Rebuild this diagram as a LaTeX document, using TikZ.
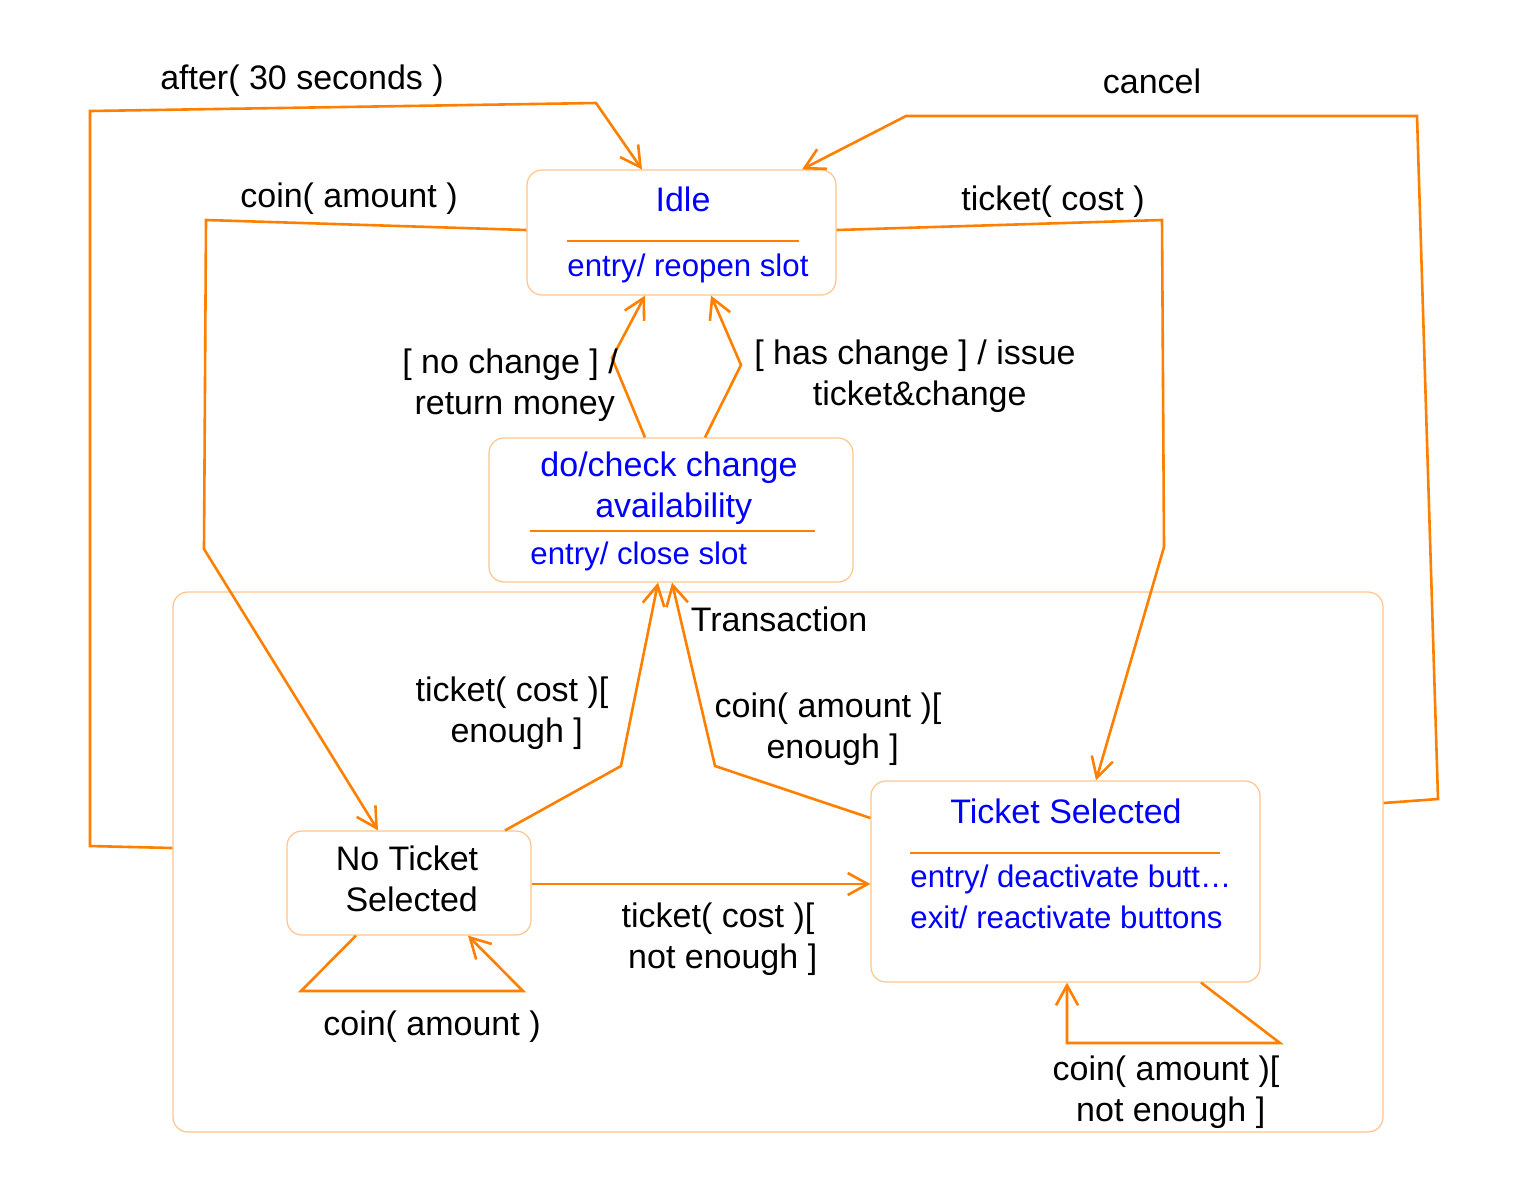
\documentclass[tikz,border=0pt]{standalone}
\usepackage{fontspec}
\setmainfont{Liberation Sans}
\usetikzlibrary{arrows.meta,calc}
\definecolor{ln}{RGB}{255,128,0}
\definecolor{bx}{RGB}{255,196,140}
\definecolor{tb}{RGB}{0,0,255}
\tikzset{
  statebox/.style={draw=bx,line width=0.6pt,rounded corners=7.5pt,inner sep=0pt,fill=none},
  conn/.style={draw=ln,line width=1.3pt,-{Straight Barb[length=10pt,width=11pt,line width=1.3pt]}},
  sep/.style={draw=ln,line width=1pt},
  lbl/.style={font=\fontsize{17}{20.5}\selectfont,align=center,inner sep=0pt,text=black,yshift=-1.5pt},
  ttl/.style={font=\fontsize{17}{20.5}\selectfont,align=center,inner sep=0pt,text=tb,yshift=-1.5pt},
  ent/.style={font=\fontsize{15.6}{19}\selectfont,inner sep=0pt,text=tb,anchor=west,yshift=-1.5pt}
}
\begin{document}
\begin{tikzpicture}[x=0.5pt,y=-0.5pt]
\useasboundingbox (0,0) rectangle (1525,1185);
% boxes
\node[statebox,minimum width=154.5pt,minimum height=62.5pt] (idle) at (681.5,232.5) {};
\node[statebox,minimum width=182pt,minimum height=72pt] (check) at (671,510) {};
\node[statebox,minimum width=605pt,minimum height=270pt] (trans) at (778,862) {};
\node[statebox,minimum width=122pt,minimum height=52pt] (notk) at (409,883) {};
\node[statebox,minimum width=194.5pt,minimum height=100.5pt] (tsel) at (1065.5,881.5) {};
% box contents
\node[ttl] (idlet) at (683,196) {Idle};
\draw[sep] (567,241) -- (799,241);
\node[ent] (idlee) at (567,265) {entry/ reopen slot};
\node[ttl] (checkt) at (669,485) {do/check change\\ \ availability};
\draw[sep] (530,531) -- (815,531);
\node[ent] (checke) at (530,553) {entry/ close slot};
\node[lbl] (transt) at (779,616) {Transaction};
\node[lbl] (notkt) at (407,876) {No Ticket\\ \ Selected};
\node[ttl] (tselt) at (1066,808) {Ticket Selected};
\draw[sep] (910,853) -- (1220,853);
\node[ent] (tsele1) at (910,876) {entry/ deactivate butt…};
\node[ent] (tsele2) at (910,914) {exit/ reactivate buttons};
% connectors
\draw[conn] (trans.west |- 0,848) -- (90,846) -- (90,111) -- (596,103) -- (idle.north -| 642,0);
\node[lbl] (l1) at (302,78) {after( 30 seconds )};
\draw[conn] (trans.east |- 0,803) -- (1438,799) -- (1417,116) -- (906,116) -- (idle.north -| 802,0);
\node[lbl] (l2) at (1152,78) {cancel};
\draw[conn] (idle.west |- 0,230) -- (206,220) -- (204,549) -- (notk.north -| 378,0);
\node[lbl] (l3) at (349,196) {coin( amount )};
\draw[conn] (idle.east |- 0,230) -- (1162,220) -- (1164,547) -- (tsel.north -| 1096,0);
\node[lbl] (l4) at (1053,199) {ticket( cost )};
\draw[conn] (check.north -| 645,0) -- (612,358) -- (idle.south -| 645,0);
\node[lbl] (l5) at (510,382) {[ no change ] /\\ \ return money};
\draw[conn] (check.north -| 705,0) -- (741,365) -- (idle.south -| 711,0);
\node[lbl] (l6) at (915,373) {[ has change ] / issue\\ \ ticket\&change};
\draw[conn] (notk.north -| 505,0) -- (621,766) -- (check.south -| 658,0);
\node[lbl] (l7) at (512,710) {ticket( cost )[\\ \ enough ]};
\draw[conn] (tsel.west |- 0,818) -- (715,766) -- (check.south -| 672,0);
\node[lbl] (l8) at (828,726) {coin( amount )[\\ \ enough ]};
\draw[conn] (notk.east |- 0,884) -- (tsel.west |- 0,884);
\node[lbl] (l9) at (718,936) {ticket( cost )[\\ \ not enough ]};
\draw[conn] (notk.south -| 356,0) -- (301,991) -- (523,991) -- (notk.south -| 468,0);
\node[lbl] (l10) at (432,1024) {coin( amount )};
\draw[conn] (tsel.south -| 1201,0) -- (1280,1043) -- (1067,1043) -- (tsel.south -| 1067,0);
\node[lbl] (l11) at (1166,1089) {coin( amount )[\\ \ not enough ]};
\end{tikzpicture}
\end{document}
